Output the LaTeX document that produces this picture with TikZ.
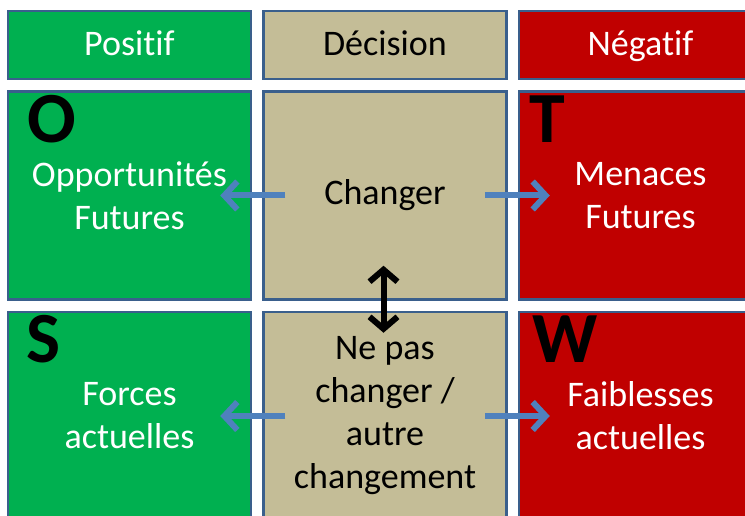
\documentclass[tikz,border=0pt]{standalone}
\usepackage{fontspec}
\setmainfont{Carlito}[Ligatures=NoCommon]
\usepackage{xcolor}
\usetikzlibrary{arrows.meta,positioning}

\definecolor{posgreen}{HTML}{00B050}
\definecolor{negred}{HTML}{C00000}
\definecolor{dectan}{HTML}{C4BD97}
\definecolor{edgeblue}{HTML}{3A5F8C}
\definecolor{arrblue}{HTML}{4F81BD}

\begin{document}
\begin{tikzpicture}[x=1pt, y=1pt,
  head/.style={rectangle, draw=edgeblue, line width=2.5pt, minimum width=243pt,
    minimum height=68pt, inner sep=0pt, text height=24pt, text depth=2pt,
    font=\fontsize{36}{43}\selectfont},
  cell/.style={rectangle, draw=edgeblue, line width=2.5pt, minimum width=243pt,
    minimum height=208pt, inner sep=0pt, align=center,
    font=\fontsize{36}{43}\selectfont},
  letter/.style={anchor=base west, inner sep=0pt, text=black,
    font=\fontsize{72}{72}\selectfont\bfseries},
  side/.style={-{Straight Barb[length=13pt,width=28pt]}, line width=6pt, draw=arrblue},
  both/.style={{Straight Barb[length=12pt,width=28pt]}-{Straight Barb[length=12pt,width=28pt]},
    line width=6pt, draw=black},
  node distance=10pt
]
\fill[white] (0,0) rectangle (745,-516);
\useasboundingbox (0,0) rectangle (745,-516);
\clip (0,0) rectangle (745,-516);

% header row
\node[head, fill=posgreen, text=white] (pos) at (129.5,-45) {Positif};
\node[head, fill=dectan, right=of pos] (dec) {Décision};
\node[head, fill=negred, text=white, right=of dec] (neg) {Négatif};

% futur
\node[cell, fill=posgreen, text=white, below=of pos] (opp) {Opportunités\\Futures};
\node[cell, fill=dectan, below=of dec] (chg) {Changer};
\node[cell, fill=negred, text=white, below=of neg] (men) {Menaces\\Futures};

% actuel
\node[cell, fill=posgreen, text=white, below=of opp] (frc) {Forces\\actuelles};
\node[cell, fill=dectan, below=of chg] (nochg) {Ne pas\\changer /\\autre\\changement};
\node[cell, fill=negred, text=white, below=of men] (fbl) {Faiblesses\\actuelles};

\node[letter] (lO) at ([xshift=21pt,yshift=-52pt]opp.north west) {O};
\node[letter] (lT) at ([xshift=12pt,yshift=-52pt]men.north west) {T};
\node[letter] (lS) at ([xshift=20pt,yshift=-52pt]frc.north west) {S};
\node[letter] (lW) at ([xshift=15pt,yshift=-52pt]fbl.north west) {W};

\draw[side] ([xshift=23pt]chg.west) -- ([xshift=-32pt]opp.east);
\draw[side] ([xshift=-23pt]chg.east) -- ([xshift=32pt]men.west);
\draw[side] ([xshift=23pt]nochg.west) -- ([xshift=-32pt]frc.east);
\draw[side] ([xshift=-23pt]nochg.east) -- ([xshift=32pt]fbl.west);
\draw[both] ([xshift=-1.5pt,yshift=35pt]chg.south) -- ([xshift=-1.5pt,yshift=-22pt]nochg.north);

\end{tikzpicture}
\end{document}
